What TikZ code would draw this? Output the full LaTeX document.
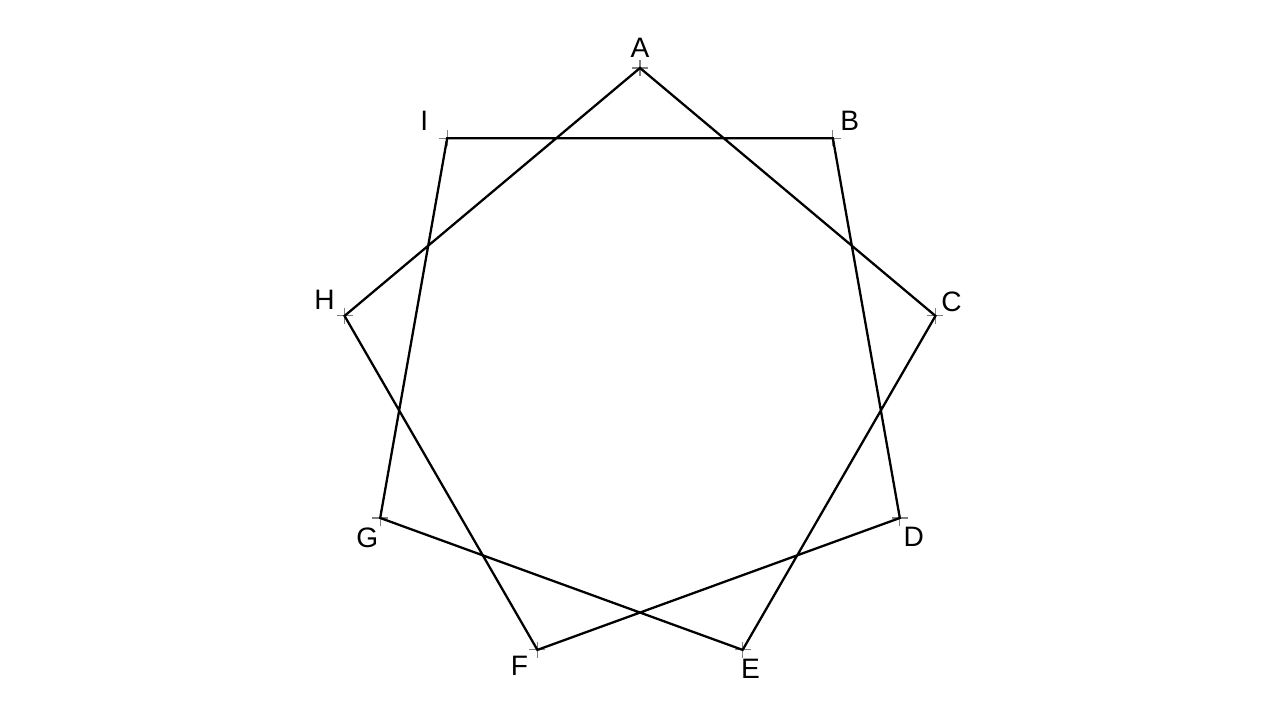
\documentclass[tikz,border=0pt]{standalone}
\usepackage{fontspec}
\setmainfont{Liberation Sans}
\tikzset{
  vlabel/.style={font=\fontsize{8}{9}\selectfont, inner sep=0pt},
  tick/.style={gray, line width=.3pt},
  starline/.style={line width=.65pt, line join=miter}
}
\begin{document}
\begin{tikzpicture}
\useasboundingbox (0,0) rectangle (12.8,7.2);
% vertices of the nonagon
\foreach \n/\a in {A/90,B/50,C/10,D/-30,E/-70,F/-110,G/-150,H/170,I/130}
  \coordinate (\n) at ([shift={(6.4,3.52)}]\a:3);
% small crosses
\foreach \n in {A,B,C,D,E,F,G,H,I}
  \draw[tick] ([xshift=-.08cm]\n) -- ([xshift=.08cm]\n) ([yshift=-.08cm]\n) -- ([yshift=.08cm]\n);
\draw[starline] (A) -- (C) -- (E) -- (G) -- (I) -- (B) -- (D) -- (F) -- (H) -- cycle;
% labels
\foreach \n/\dx/\dy in {A/0/.2,B/.17/.17,C/.16/.14,D/.14/-.19,E/.08/-.19,F/-.18/-.16,G/-.13/-.2,H/-.2/.16,I/-.23/.17}
  \node[vlabel] (l\n) at ([shift={(\dx,\dy)}]\n) {\n};
\end{tikzpicture}
\end{document}
